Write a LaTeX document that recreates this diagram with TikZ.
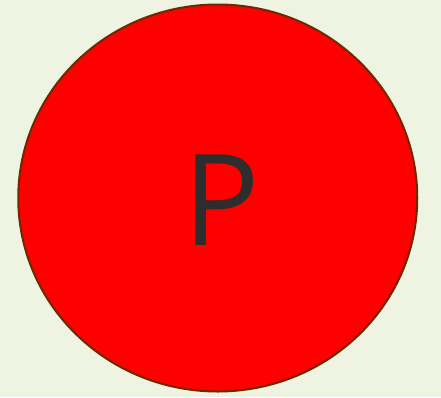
\documentclass[tikz,border=0pt]{standalone}
\usepackage{fontspec}
\setmainfont{Open Sans}
\definecolor{bgc}{HTML}{EEF3E2}
\definecolor{edgec}{HTML}{6B2A00}
\definecolor{txtc}{HTML}{2D2D2D}
\tikzset{
  disc/.style={fill=red, draw=edgec, line width=2pt},
  label text/.style={text=txtc, inner sep=0pt, font=\fontsize{127}{127}\selectfont}
}
\begin{document}
\begin{tikzpicture}[x=1pt,y=-1pt]
  \fill[bgc] (0,0) rectangle (441,397);
  \useasboundingbox (0,0) rectangle (441,397);
  \draw[disc] (217.75,198) ellipse [x radius=199.5, y radius=193.5];
  \node[label text] (p) at (221.5,200.5) {P};
\end{tikzpicture}
\end{document}
